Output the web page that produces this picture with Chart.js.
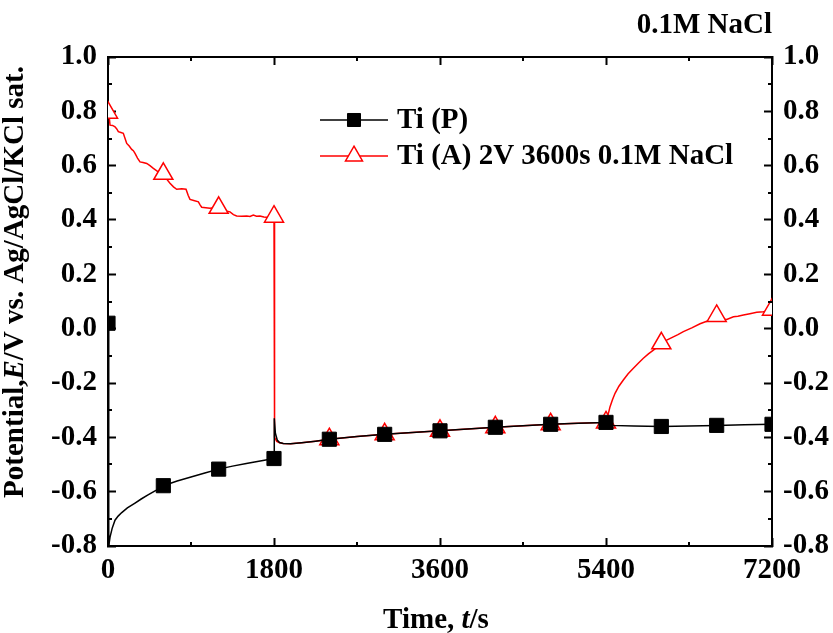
<!DOCTYPE html>
<html>
<head>
<meta charset="utf-8">
<script src="https://cdn.jsdelivr.net/npm/chart.js"></script>
<style>
  html, body { margin: 0; padding: 0; background: #fff; }
  canvas { display: block; }
</style>
</head>
<body>
<canvas id="ocp" width="833" height="633"></canvas>
<script>
// open circuit potential of Ti, polished vs anodized
const timeP = [0, 8, 22, 45, 76, 110, 149, 210, 293, 360, 434, 520, 600, 750, 900, 1050, 1200, 1350, 1500, 1650,
  1800, 1803, 1815, 1835, 1860, 1900, 1980, 2100, 2250, 2400, 2700, 3000, 3300, 3600, 3900, 4200, 4500, 4800, 5100, 5400,
  5440, 5700, 6000, 6300, 6600, 6900, 7200];
const potP = [0.02, -0.80, -0.767, -0.735, -0.705, -0.69, -0.677, -0.66, -0.642, -0.627, -0.612, -0.595, -0.578, -0.561, -0.546, -0.531, -0.517, -0.506, -0.496, -0.487,
  -0.478, -0.33, -0.385, -0.41, -0.419, -0.423, -0.424, -0.42, -0.414, -0.407, -0.397, -0.389, -0.382, -0.376, -0.369, -0.363, -0.357, -0.352, -0.348, -0.345,
  -0.356, -0.358, -0.36, -0.358, -0.356, -0.354, -0.352];

const timeA = [0, 10, 22, 50, 76, 95, 112, 140, 166, 185, 203, 230, 257, 275, 293, 320, 347, 380, 420, 455,
  492, 540, 600, 630, 672, 710, 745, 800, 846, 870, 889, 930, 980, 1000, 1016, 1060, 1106, 1150, 1200, 1250,
  1290, 1323, 1360, 1395, 1450, 1504, 1540, 1576, 1610, 1648, 1690, 1720, 1760, 1800, 1806, 1830, 1860, 1900, 1980, 2100,
  2250, 2400, 2700, 3000, 3300, 3600, 3900, 4200, 4500, 4800, 5100, 5400, 5420, 5444, 5470, 5498, 5540, 5588, 5640, 5697,
  5750, 5805, 5860, 5914, 5960, 6000, 6058, 6130, 6180, 6239, 6330, 6420, 6500, 6560, 6600, 6650, 6709, 6782, 6830, 6890,
  6960, 7035, 7106, 7150, 7200];
const potA = [0.795, 0.79, 0.749, 0.748, 0.743, 0.735, 0.725, 0.722, 0.719, 0.70, 0.682, 0.672, 0.66, 0.655, 0.645, 0.628, 0.614, 0.612, 0.608, 0.60,
  0.59, 0.578, 0.57, 0.553, 0.535, 0.522, 0.513, 0.515, 0.513, 0.49, 0.476, 0.472, 0.467, 0.455, 0.447, 0.445, 0.443, 0.445, 0.445, 0.437,
  0.432, 0.43, 0.42, 0.415, 0.414, 0.415, 0.413, 0.418, 0.414, 0.415, 0.411, 0.41, 0.412, 0.412, -0.40, -0.415, -0.42, -0.423, -0.424, -0.42,
  -0.414, -0.407, -0.397, -0.389, -0.382, -0.376, -0.369, -0.363, -0.357, -0.352, -0.348, -0.345, -0.32, -0.287, -0.262, -0.238, -0.212, -0.189, -0.166, -0.146,
  -0.127, -0.109, -0.093, -0.079, -0.066, -0.054, -0.042, -0.03, -0.022, -0.011, 0.003, 0.018, 0.028, 0.036, 0.047, 0.036, 0.034, 0.044, 0.046, 0.05,
  0.055, 0.06, 0.062, 0.064, 0.07];

// symbols every 600 s
const markerTimes = [0, 600, 1200, 1800, 2400, 3000, 3600, 4200, 4800, 5400, 6000, 6600, 7200];

const seriesNames = ['Ti (P)', 'Ti (A) 2V 3600s 0.1M NaCl'];
const solution = '0.1M NaCl';

const xTicks = [0, 1800, 3600, 5400, 7200];
const xMinor = [900, 2700, 4500, 6300];
const yTicks = [-0.8, -0.6, -0.4, -0.2, 0.0, 0.2, 0.4, 0.6, 0.8, 1.0];
const yMinor = [-0.7, -0.5, -0.3, -0.1, 0.1, 0.3, 0.5, 0.7, 0.9];

const FONT = "'Liberation Serif', 'Times New Roman', serif";
const FS = 29;

function pts(t, v) { return t.map((x, i) => ({ x: x, y: v[i] })); }
function markerRadius(r) {
  return ctx => (ctx.raw && markerTimes.includes(ctx.raw.x)) ? r : 0;
}

// draw a run of text pieces, some in italic
function richText(ctx, parts, x, y, align) {
  const fonts = parts.map(p => (p[1] ? 'italic ' : '') + 'bold ' + FS + 'px ' + FONT);
  let total = 0;
  parts.forEach((p, i) => { ctx.font = fonts[i]; total += ctx.measureText(p[0]).width; });
  let cx = align === 'center' ? x - total / 2 : x;
  ctx.textAlign = 'left';
  ctx.textBaseline = 'alphabetic';
  parts.forEach((p, i) => {
    ctx.font = fonts[i];
    ctx.fillText(p[0], cx, y);
    cx += ctx.measureText(p[0]).width;
  });
}

const decorations = {
  id: 'decorations',
  afterDatasetsDraw(chart) {
    const ctx = chart.ctx;
    const s = chart.scales;
    const a = chart.chartArea;
    ctx.save();
    ctx.strokeStyle = '#000';
    ctx.lineWidth = 2;
    ctx.beginPath();
    xMinor.forEach(v => {
      const px = Math.round(s.x.getPixelForValue(v));
      ctx.moveTo(px, a.bottom); ctx.lineTo(px, a.bottom - 4);
      ctx.moveTo(px, a.top); ctx.lineTo(px, a.top + 4);
    });
    yMinor.forEach(v => {
      const py = Math.round(s.y.getPixelForValue(v));
      ctx.moveTo(a.left, py); ctx.lineTo(a.left + 4, py);
      ctx.moveTo(a.right, py); ctx.lineTo(a.right - 4, py);
    });
    ctx.stroke();
    ctx.restore();
  },
  afterDraw(chart) {
    const ctx = chart.ctx;
    const a = chart.chartArea;
    ctx.save();
    ctx.fillStyle = '#000';
    // axis titles
    richText(ctx, [['Time, ', false], ['t', true], ['/s', false]], (a.left + a.right) / 2 - 4, 628, 'center');
    ctx.translate(23, 282);
    ctx.rotate(-Math.PI / 2);
    richText(ctx, [['Potential,', false], ['E', true], ['/V vs. Ag/AgCl/KCl sat.', false]], 0, 0, 'center');
    ctx.restore();

    // legend: line with symbol, then the name
    const lx = 320, ly = 120, len = 68, row = 36;
    chart.data.datasets.forEach((ds, i) => {
      const y = ly + i * row;
      ctx.save();
      ctx.strokeStyle = ds.borderColor;
      ctx.lineWidth = ds.borderWidth;
      ctx.beginPath();
      ctx.moveTo(lx, y); ctx.lineTo(lx + len, y);
      ctx.stroke();
      ctx.fillStyle = ds.pointBackgroundColor;
      ctx.strokeStyle = ds.pointBorderColor;
      ctx.lineWidth = ds.pointBorderWidth;
      Chart.helpers.drawPoint(ctx, {
        pointStyle: ds.pointStyle, radius: ds.legendRadius, rotation: 0, borderWidth: ds.pointBorderWidth
      }, lx + len / 2, y);
      ctx.fillStyle = '#000';
      ctx.font = 'bold ' + FS + 'px ' + FONT;
      ctx.textAlign = 'left';
      ctx.textBaseline = 'alphabetic';
      ctx.fillText(ds.label, lx + len + 9, y + 8);
      ctx.restore();
    });
  }
};

const tickFont = { family: FONT, size: FS, weight: 'bold' };
const majorGrid = { drawOnChartArea: false, tickLength: -8, tickWidth: 2, tickColor: '#000' };
const frame = { display: true, color: '#000', width: 2 };

new Chart(document.getElementById('ocp'), {
  type: 'line',
  data: {
    datasets: [{
      label: seriesNames[0],
      data: pts(timeP, potP),
      borderColor: '#000',
      borderWidth: 1.5,
      pointStyle: 'rect',
      pointRadius: markerRadius(10),
      pointBackgroundColor: '#000',
      pointBorderColor: '#000',
      pointBorderWidth: 1,
      legendRadius: 9.2,
      clip: 0
    }, {
      label: seriesNames[1],
      data: pts(timeA, potA),
      borderColor: '#ff0000',
      borderWidth: 1.5,
      pointStyle: 'triangle',
      pointRadius: markerRadius(11),
      pointBackgroundColor: '#fff',
      pointBorderColor: '#ff0000',
      pointBorderWidth: 1.5,
      legendRadius: 9.8,
      clip: 0
    }]
  },
  options: {
    responsive: false,
    animation: false,
    events: [],
    layout: { padding: 0 },
    elements: { line: { tension: 0 }, point: { hoverRadius: 0 } },
    plugins: {
      legend: { display: false },
      tooltip: { enabled: false },
      title: {
        display: true,
        text: solution,
        align: 'end',
        fullSize: false,
        color: '#000',
        font: { family: FONT, size: FS, weight: 'bold', lineHeight: 1 },
        padding: { top: 11, bottom: 0 }
      }
    },
    scales: {
      x: {
        type: 'linear', position: 'bottom', min: 0, max: 7200,
        afterBuildTicks: s => { s.ticks = xTicks.map(v => ({ value: v })); },
        afterFit: s => { s.height = 87; },
        grid: majorGrid, border: frame,
        ticks: { font: tickFont, color: '#000', padding: 15, maxRotation: 0, callback: v => String(v) }
      },
      x2: {
        type: 'linear', position: 'top', min: 0, max: 7200,
        afterBuildTicks: s => { s.ticks = xTicks.map(v => ({ value: v })); },
        afterFit: s => { s.height = 17; },
        grid: majorGrid, border: frame,
        ticks: { display: false }
      },
      y: {
        type: 'linear', position: 'left', min: -0.8, max: 1.0,
        afterBuildTicks: s => { s.ticks = yTicks.map(v => ({ value: v })); },
        afterFit: s => { s.width = 108; },
        grid: majorGrid, border: frame,
        ticks: { font: tickFont, color: '#000', padding: 19, callback: v => v.toFixed(1) }
      },
      y2: {
        type: 'linear', position: 'right', min: -0.8, max: 1.0,
        afterBuildTicks: s => { s.ticks = yTicks.map(v => ({ value: v })); },
        afterFit: s => { s.width = 61; },
        grid: majorGrid, border: frame,
        ticks: { font: tickFont, color: '#000', padding: 19, callback: v => v.toFixed(1) }
      }
    }
  },
  plugins: [decorations]
});
</script>
</body>
</html>
